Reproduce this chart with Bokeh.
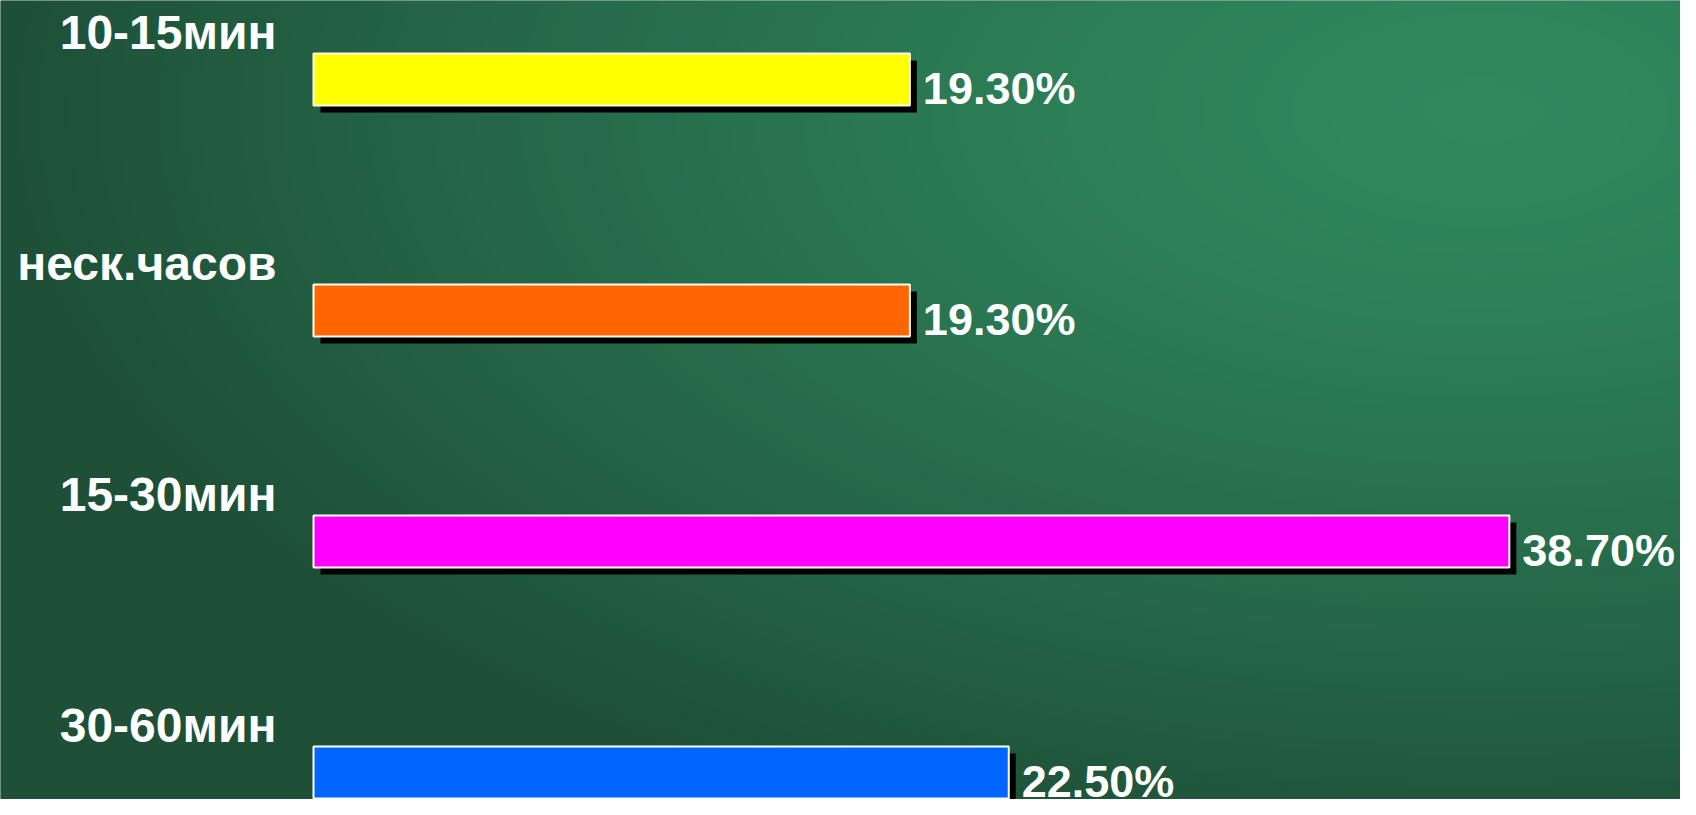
import numpy as np
from bokeh.plotting import figure
from bokeh.models import Range1d, ColumnDataSource
from bokeh.core.properties import value
from bokeh.embed import file_html
from bokeh.resources import INLINE

# ---- data ----
categories = ["10-15мин", "неск.часов", "15-30мин", "30-60мин"]
values = [19.3, 19.3, 38.7, 22.5]
value_labels = ["19.30%", "19.30%", "38.70%", "22.50%"]
colors = ["#ffff00", "#ff6600", "#ff00ff", "#0066ff"]

# ---- layout ----
W, H = 1680, 799
bar_left_px = 313.0
px_per_unit = 30.9
first_center_px = 79.0
row_px = 231.0
bar_px = 52.0
shadow_px = 7.0

x0 = -bar_left_px / px_per_unit
x1 = x0 + W / px_per_unit
y_top = first_center_px / row_px
y_bot = y_top - H / row_px

p = figure(width=W, height=H, x_range=Range1d(x0, x1), y_range=Range1d(y_bot, y_top),
           output_backend="svg", toolbar_location=None, min_border=0,
           x_axis_location=None, y_axis_location=None)
p.grid.visible = False
p.outline_line_color = None
p.background_fill_color = "#235c42"
p.border_fill_color = "#235c42"

# ---- background gradient ----
nx, ny = 420, 200
xs = (np.arange(nx) + 0.5) * W / nx
ys = (np.arange(ny) + 0.5) * H / ny
X, Y = np.meshgrid(xs, ys[::-1])  # row 0 = bottom of screen
r = np.sqrt(((X - 1480) / 1500) ** 2 + ((Y - 110) / 780) ** 2)
t = np.clip(r, 0, 1) ** 1.3
c0 = np.array([48, 138, 94], dtype=float)
c1 = np.array([30, 79, 55], dtype=float)
rgb = c0 + t[..., None] * (c1 - c0)
img = np.empty((ny, nx), dtype=np.uint32)
view = img.view(dtype=np.uint8).reshape((ny, nx, 4))
view[..., 0] = rgb[..., 0].astype(np.uint8)
view[..., 1] = rgb[..., 1].astype(np.uint8)
view[..., 2] = rgb[..., 2].astype(np.uint8)
view[..., 3] = 255
p.image_rgba(image=[img], x=x0, y=y_bot, dw=x1 - x0, dh=y_top - y_bot)

# ---- bars ----
n = len(categories)
ypos = [-i for i in range(n)]
half = bar_px / 2 / row_px
sdx = shadow_px / px_per_unit
sdy = shadow_px / row_px

src = ColumnDataSource(dict(
    cat=categories, val=values, lab=value_labels, color=colors, y=ypos,
    top=[y + half for y in ypos], bottom=[y - half for y in ypos],
    left=[0.0] * n,
    s_left=[sdx] * n, s_right=[v + sdx for v in values],
    s_top=[y + half - sdy for y in ypos], s_bottom=[y - half - sdy for y in ypos],
    cat_y=[y + 47.5 / row_px for y in ypos],
    val_y=[y - 9.0 / row_px for y in ypos],
))

p.quad(left="s_left", right="s_right", top="s_top", bottom="s_bottom", source=src,
       fill_color="black", line_color=None)
p.quad(left="left", right="val", top="top", bottom="bottom", source=src,
       fill_color="color", line_color="#fffff0", line_width=2)

p.text(x="left", y="cat_y", text="cat", source=src, x_offset=-37,
       text_align="right", text_baseline="alphabetic",
       text_font=value("Liberation Sans"), text_font_style="bold",
       text_font_size="48px", text_color="#ffffff")
p.text(x="val", y="val_y", text="lab", source=src, x_offset=13,
       text_align="left", text_baseline="alphabetic",
       text_font=value("Liberation Sans"), text_font_style="bold",
       text_font_size="45px", text_color="#ffffff")

open("out.html", "w").write(file_html(p, INLINE))
